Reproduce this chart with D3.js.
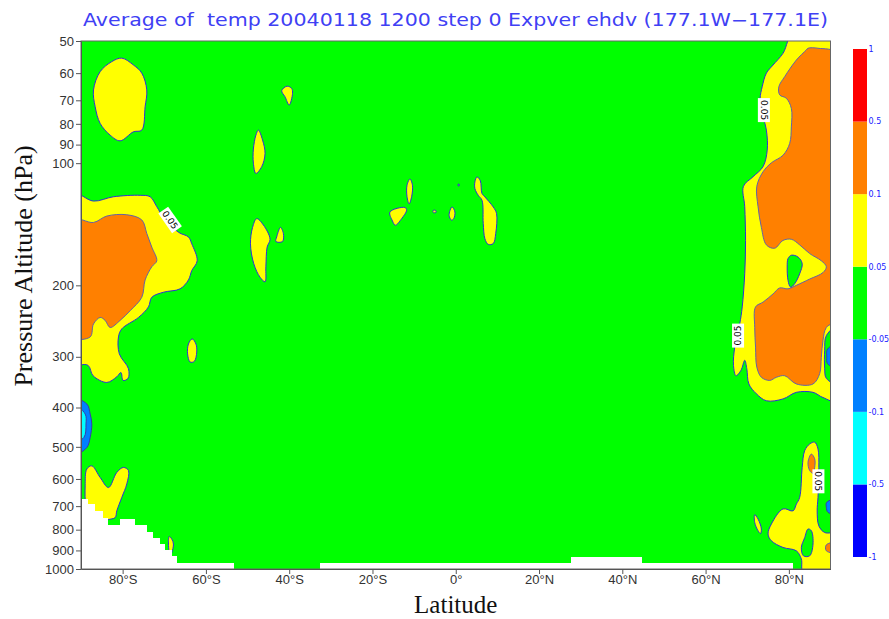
<!DOCTYPE html>
<html>
<head>
<meta charset="utf-8">
<script src="https://cdn.jsdelivr.net/npm/d3@7"></script>
<style>
  html, body { margin: 0; padding: 0; background: #fff; }
  svg { display: block; }
</style>
</head>
<body>
<svg id="chart" width="889" height="619"></svg>
<script>
// ---- axis ticks and colour classes ----
const latTicks = [-80, -60, -40, -20, 0, 20, 40, 60, 80];
const pTicks = [50, 60, 70, 80, 90, 100, 200, 300, 400, 500, 600, 700, 800, 900, 1000];
const levels = [-1, -0.5, -0.1, -0.05, 0.05, 0.1, 0.5, 1];
const levelLabels = ["-1", "-0.5", "-0.1", "-0.05", "0.05", "0.1", "0.5", "1"];
const bandColors = ["#0000ff", "#00ffff", "#0080ff", "#00ff00", "#ffff00", "#ff8000", "#ff0000"];
// class index into bandColors: 0 <-1..-0.5>, 1 <-0.5..-0.1>, 2 <-0.1..-0.05>, 3 <-0.05..0.05>, 4 <0.05..0.1>, 5 <0.1..0.5>, 6 <0.5..1>
const backgroundClass = 3;

// ---- contour regions, [latitude, pressure hPa] ----
const southPolarCap = [[-87.0,66],[-85.4,59.5],[-82.6,56.2],[-80.2,55.1],[-77.4,57.3],[-75.4,60.0],[-74.2,66],[-74.6,72.6],[-75.4,82.9],[-77.4,83.7],[-80.6,88.1],[-83.0,85.3],[-85.4,79.8],[-86.6,72.6]];
const southWarmBand = [[-92,119],[-87.0,124],[-82.2,121],[-75.8,120],[-73.4,121],[-71.8,128],[-70.2,136],[-66.6,148],[-64.2,152],[-63.4,158],[-62.1,174],[-63.4,184],[-64.2,194],[-66.2,204],[-70.2,208],[-73.0,214],[-73.8,226],[-76.2,240],[-80.2,256],[-81.0,268],[-80.8,295],[-78.6,321],[-78.7,339],[-79.9,343],[-80.4,328],[-81.4,336],[-83.8,347],[-87.1,334],[-88.3,315],[-92,310]];
const southWarmCore = [[-92,138],[-87.0,140],[-83.8,135],[-79.0,134],[-75.4,138],[-74.2,149],[-73.0,161],[-71.8,174],[-73.0,180],[-74.6,194],[-75.4,214],[-78.2,231],[-80.6,244],[-83.0,254],[-84.2,244],[-85.4,240],[-87.0,249],[-87.8,268],[-92,268]];
const southBlob1 = [[-41.8,66.3],[-40.5,64.6],[-39.4,65.5],[-39.2,67.3],[-40.0,71.9],[-41.0,68.6]];
const southBlob2 = [[-47.4,82.9],[-46.4,87.7],[-45.8,94.7],[-46.6,102],[-48.0,106],[-48.6,100],[-48.6,92.3],[-48.0,85.3]];
const southBlob3 = [[-47.8,137],[-46.2,142],[-44.6,154],[-45.3,161],[-45.6,180],[-45.8,196],[-47.0,191],[-48.5,177],[-49.3,158],[-48.8,144]];
const southBlob4 = [[-42.1,144],[-41.4,149],[-41.6,156],[-43.2,156],[-43.0,152]];
const southBlob5 = [[-63.3,271],[-62.4,279],[-62.2,292],[-62.8,308],[-63.8,309],[-64.4,295],[-64.2,279]];
const tropicBlob1 = [[-11.0,109.4],[-10.4,113.3],[-10.6,121],[-11.2,126],[-11.7,121],[-11.7,113.3]];
const tropicBlob2 = [[-15.8,131.9],[-12.2,128.6],[-11.8,130.6],[-13.0,137],[-14.5,142.2],[-15.2,138.8]];
const tropicBlob3 = [[-5.5,131],[-4.9,130.6],[-4.7,132],[-5.3,132.5]];
const tropicBlob4 = [[-0.9,128.2],[-0.2,131.9],[-0.5,137],[-1.0,138.2],[-1.6,134.4]];
const tropicBlob5 = [[0.6,112.6],[0.8,112.6],[0.8,113.8],[0.6,113.8]];
const tropicBlob6 = [[5.1,108.1],[5.9,110.5],[6.3,118.8],[7.0,121.1],[9.0,128.2],[9.8,133.1],[9.6,149.1],[9.0,157.8],[7.8,158.5],[7.0,153.5],[6.6,140.8],[6.3,123.4],[5.4,120],[4.6,115.5],[4.6,111.2]];
const southCoolCell = [[-92,381],[-88.6,392],[-87.8,415],[-87.4,439],[-87.8,474],[-88.6,502],[-92,523]];
const southCoolCore = [[-92,392],[-89.0,415],[-88.8,439],[-89.3,474],[-92,487]];
const southLowBlob = [[-88.6,567],[-87.4,557],[-85.4,595],[-83.4,630],[-81.4,578],[-79.8,562],[-78.6,572],[-79.0,617],[-80.2,666],[-81.4,719],[-81.8,747],[-83.5,756],[-85.4,769],[-87.8,739],[-88.8,699],[-89.0,624]];
const southLowSpot = [[-68.8,832],[-68.2,844],[-67.8,868],[-68.2,911],[-68.6,928],[-69.0,868]];
const northWarmBand = [[81.4,47],[78.6,53.6],[76.2,57.3],[74.6,60],[73.6,64.8],[73.1,69.2],[73.4,74],[74.6,82.9],[74.8,92.9],[73.8,102],[71.4,108],[69.1,114],[69.4,128],[69.6,155],[69.4,187],[68.8,226],[68.2,249],[67.0,284],[66.7,315],[67.3,334],[68.5,324],[69.4,306],[69.9,321],[70.4,350],[72.2,370],[74.6,385],[78.6,381],[81.8,367],[85.8,367],[88.2,378],[92,385],[92,47]];
const northWarmCore = [[84.6,52.1],[87.0,52.1],[92,54.1],[92,240],[89.0,254],[88.2,273],[87.8,301],[87.4,330],[85.8,350],[81.8,350],[79.0,334],[77.0,337],[75.4,343],[73.4,337],[72.3,318],[72.0,284],[71.8,254],[72.0,226],[73.8,220],[76.2,210],[77.8,203],[79.8,204],[81.8,200],[85.0,193],[88.2,186],[89.0,180],[87.8,174],[85.0,167],[82.6,159],[80.6,154],[78.6,155],[76.6,162],[74.6,159],[73.4,144],[72.6,128],[72.3,114],[73.8,105],[75.8,99.8],[78.6,95.6],[80.2,89.4],[80.6,81.4],[80.6,73.3],[79.4,69.2],[77.8,67.9],[77.6,64.8],[79.0,61.2],[81.8,55.7],[84.2,52.6]];
const northNeutralHole = [[80.6,168.6],[82.2,170.3],[83.2,176.8],[82.6,187.2],[81.4,198.1],[80.4,202],[79.8,194.4],[79.6,180.3],[79.8,171.8]];
const northEdgeNeutral = [[92,251],[89.0,266],[88.6,289],[88.6,320],[89.0,339],[92,351]];
const northEdgeCool = [[92,279],[89.3,287],[89.1,300],[89.3,312],[92,320]];
const northLowBand = [[85.0,492],[86.2,487],[87.0,506],[87.2,562],[87.0,666],[86.8,719],[87.2,783],[88.6,813],[92,820],[92,1020],[83.5,1020],[83.0,945],[81.8,902],[78.6,885],[75.8,852],[75.0,820],[75.8,775],[78.6,711],[81.0,719],[81.8,692],[82.6,666],[83.2,562],[83.8,511]];
const northLowHole = [[84.6,797],[85.4,805],[85.8,868],[85.0,928],[83.5,928],[83.0,885],[83.8,837]];
const northLowCore = [[85.4,521],[86.2,535],[86.2,562],[85.8,581],[85.0,572],[84.6,546]];
const northLowCool = [[92,672],[89.1,685],[89.0,705],[89.4,725],[92,732]];
const northLowWarmEdge = [[92,860],[89.0,872],[89.0,902],[92,911]];
const northLowSpot = [[71.8,735],[72.6,753],[73.4,797],[73.2,818],[72.6,805],[71.8,768]];

// drawing order: warm bands first, cores on top, neutral holes last
const regions = [
  {cls: 4, pts: southPolarCap}, {cls: 4, pts: southWarmBand}, {cls: 5, pts: southWarmCore},
  {cls: 4, pts: southBlob1}, {cls: 4, pts: southBlob2}, {cls: 4, pts: southBlob3},
  {cls: 4, pts: southBlob4}, {cls: 4, pts: southBlob5},
  {cls: 4, pts: tropicBlob1}, {cls: 4, pts: tropicBlob2}, {cls: 4, pts: tropicBlob3},
  {cls: 4, pts: tropicBlob4}, {cls: 4, pts: tropicBlob5}, {cls: 4, pts: tropicBlob6},
  {cls: 2, pts: southCoolCell}, {cls: 1, pts: southCoolCore},
  {cls: 4, pts: southLowBlob}, {cls: 4, pts: southLowSpot},
  {cls: 4, pts: northWarmBand}, {cls: 5, pts: northWarmCore}, {cls: 3, pts: northNeutralHole},
  {cls: 3, pts: northEdgeNeutral}, {cls: 2, pts: northEdgeCool},
  {cls: 4, pts: northLowBand}, {cls: 3, pts: northLowHole}, {cls: 5, pts: northLowCore},
  {cls: 2, pts: northLowCool}, {cls: 5, pts: northLowWarmEdge}, {cls: 4, pts: northLowSpot}
];

// columns below the surface: [lat from, lat to, lowest pressure with data]
const noDataCols = [
  [-90,-88.6,671],[-88.6,-86.9,690],[-86.9,-85.0,718],[-85.0,-83.8,747],[-83.8,-80.6,777],
  [-80.6,-77.5,751],[-77.5,-74.6,777],[-74.6,-73.0,809],[-73.0,-71.5,837],[-71.5,-70.3,866],
  [-70.3,-68.6,896],[-68.6,-67.2,927],[-67.2,-53.5,965],[-32.4,27.8,965],[27.8,44.4,932],[44.4,80.6,965]
];

// 0.05 contour labels: [lat, pressure, text]
const contourLabels = [[-68.6,138,"0.05"],[74.0,74,"0.05"],[67.8,266,"0.05"],[87.1,608,"0.05"]];
const contourLabelAngles = [55, 90, -90, 90];

const titleText = "Average of  temp 20040118 1200 step 0 Expver ehdv (177.1W\u2212177.1E)";

// ---- layout ----
const svg = d3.select("#chart");
const plot = {left: 81, right: 830.5, top: 41, bottom: 569};
const x = d3.scaleLinear().domain([-90, 90]).range([plot.left, plot.right]);
const y = d3.scaleLog().domain([50, 1000]).range([plot.top, plot.bottom]);

svg.append("rect").attr("width", 889).attr("height", 619).attr("fill", "#fff");

svg.append("defs").append("clipPath").attr("id", "plotClip")
  .append("rect")
  .attr("x", plot.left).attr("y", plot.top)
  .attr("width", plot.right - plot.left).attr("height", plot.bottom - plot.top);

const field = svg.append("g").attr("clip-path", "url(#plotClip)");

// neutral background class
field.append("rect")
  .attr("x", x(-90)).attr("y", y(50))
  .attr("width", x(90) - x(-90)).attr("height", y(1000) - y(50))
  .attr("fill", bandColors[backgroundClass]);

const shape = d3.line()
  .x(d => x(d[0])).y(d => y(d[1]))
  .curve(d3.curveCatmullRomClosed.alpha(0.5));

const lineColor = cls => (cls === 5 ? "#6262a8" : cls === 2 || cls === 1 ? "#3a3aa8" : "#2f2fd8");

field.selectAll("path.region")
  .data(regions)
  .join("path")
  .attr("class", "region")
  .attr("d", d => shape(d.pts))
  .attr("fill", d => bandColors[d.cls])
  .attr("stroke", d => lineColor(d.cls))
  .attr("stroke-width", 1)
  .attr("stroke-linejoin", "round");

// below-ground mask
field.selectAll("rect.nodata")
  .data(noDataCols)
  .join("rect")
  .attr("class", "nodata")
  .attr("x", d => Math.floor(x(d[0])))
  .attr("y", d => Math.round(y(d[2])))
  .attr("width", d => Math.ceil(x(d[1])) - Math.floor(x(d[0])) + 1)
  .attr("height", d => y(1000) - Math.round(y(d[2])) + 2)
  .attr("fill", "#fff")
  .attr("shape-rendering", "crispEdges");

// contour labels
const lab = field.selectAll("g.clabel")
  .data(contourLabels)
  .join("g")
  .attr("class", "clabel")
  .attr("transform", (d, i) => `translate(${x(d[0])},${y(d[1])}) rotate(${contourLabelAngles[i]})`);
lab.append("rect").attr("x", -12).attr("y", -6).attr("width", 24).attr("height", 12).attr("fill", "#fff");
lab.append("text")
  .attr("text-anchor", "middle").attr("dy", "0.35em")
  .attr("font-family", "DejaVu Sans, sans-serif").attr("font-size", 9)
  .attr("fill", "#000")
  .text(d => d[2]);

// frame
svg.append("rect")
  .attr("x", plot.left).attr("y", plot.top)
  .attr("width", plot.right - plot.left).attr("height", plot.bottom - plot.top)
  .attr("fill", "none").attr("stroke", "#666").attr("stroke-width", 1);

// axes
const latFmt = d => d === 0 ? "0\u00b0" : `${Math.abs(d)}\u00b0${d < 0 ? "S" : "N"}`;
const xAxis = svg.append("g")
  .attr("transform", `translate(0,${plot.bottom})`)
  .call(d3.axisBottom(x).tickValues(latTicks).tickFormat(latFmt).tickSize(5).tickSizeOuter(0).tickPadding(1));
const yAxis = svg.append("g")
  .attr("transform", `translate(${plot.left},0)`)
  .call(d3.axisLeft(y).tickValues(pTicks).tickFormat(d3.format("d")).tickSize(5).tickSizeOuter(0).tickPadding(2));
[xAxis, yAxis].forEach(g => {
  g.select(".domain").attr("stroke", "#555");
  g.selectAll(".tick line").attr("stroke", "#555");
  g.selectAll(".tick text")
    .attr("font-family", "Liberation Sans, Arial, sans-serif")
    .attr("font-size", 13).attr("fill", "#333");
});

// axis titles
svg.append("text")
  .attr("x", x(0)).attr("y", 613)
  .attr("text-anchor", "middle")
  .attr("font-family", "Liberation Serif, Times New Roman, serif").attr("font-size", 25)
  .attr("fill", "#111")
  .text("Latitude");
svg.append("text")
  .attr("transform", `translate(32,266) rotate(-90)`)
  .attr("text-anchor", "middle")
  .attr("font-family", "Liberation Serif, Times New Roman, serif").attr("font-size", 26)
  .attr("fill", "#111")
  .text("Pressure Altitude (hPa)");

// title
svg.append("text")
  .attr("x", 83).attr("y", 26)
  .attr("font-family", "DejaVu Sans, sans-serif").attr("font-size", 17)
  .attr("fill", "#4040f4")
  .attr("textLength", 745).attr("lengthAdjust", "spacingAndGlyphs")
  .style("white-space", "pre")
  .text(titleText);

// colour bar
const cb = d3.scaleLinear().domain([0, levels.length - 1]).range([557, 49]);
const cbx = 853, cbw = 14;
svg.append("g").selectAll("rect")
  .data(bandColors)
  .join("rect")
  .attr("x", cbx)
  .attr("y", (d, i) => cb(i + 1))
  .attr("width", cbw)
  .attr("height", (d, i) => cb(i) - cb(i + 1))
  .attr("fill", d => d);
svg.append("g").selectAll("text")
  .data(levels)
  .join("text")
  .attr("x", cbx + cbw + 1.5)
  .attr("y", (d, i) => cb(i))
  .attr("dy", "0.35em")
  .attr("font-family", "DejaVu Sans, sans-serif").attr("font-size", 8)
  .attr("fill", "#2020ff")
  .text((d, i) => levelLabels[i]);
</script>
</body>
</html>
